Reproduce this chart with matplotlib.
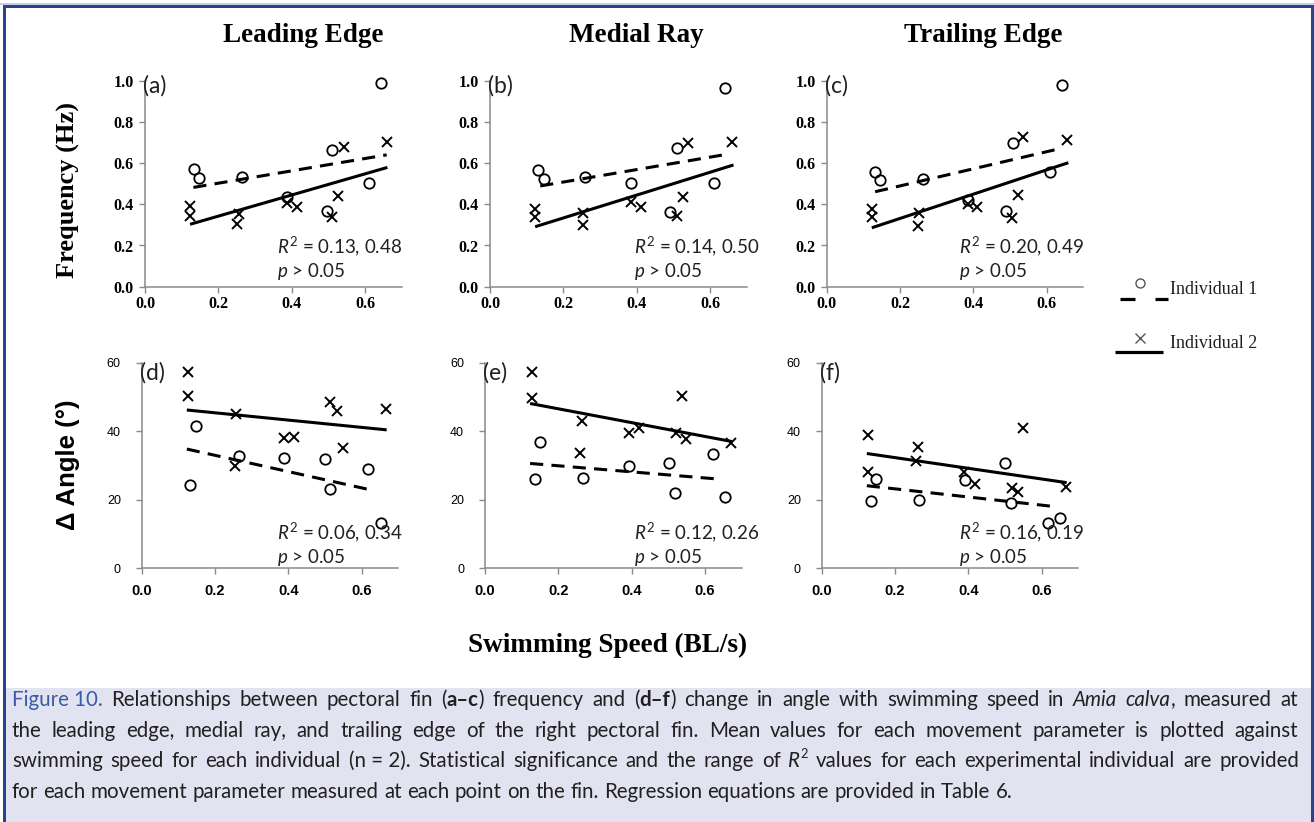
import re

import matplotlib
matplotlib.use("Agg")
import matplotlib.pyplot as plt
from matplotlib import font_manager
from matplotlib.lines import Line2D
from matplotlib.patches import Rectangle

# panel data: swimming speed (BL/s) against fin frequency (Hz) / change in angle (deg)
PANEL_LETTERS = ["a", "b", "c", "d", "e", "f"]
COLUMN_TITLES = ["Leading Edge", "Medial Ray", "Trailing Edge"]
R2_VALUES = ["0.13, 0.48", "0.14, 0.50", "0.20, 0.49",
             "0.06, 0.34", "0.12, 0.26", "0.16, 0.19"]
P_TEXT = "> 0.05"

# individual 1 (open circles)
IND1_SPEED = [
    [0.134, 0.147, 0.264, 0.386, 0.495, 0.509, 0.612, 0.644],
    [0.130, 0.146, 0.260, 0.384, 0.491, 0.510, 0.610, 0.641],
    [0.132, 0.145, 0.262, 0.386, 0.489, 0.507, 0.609, 0.641],
    [0.132, 0.148, 0.266, 0.389, 0.500, 0.514, 0.616, 0.653],
    [0.136, 0.150, 0.268, 0.394, 0.502, 0.518, 0.621, 0.655],
    [0.135, 0.148, 0.266, 0.391, 0.500, 0.515, 0.618, 0.650],
]
IND1_VALUE = [
    [0.571, 0.526, 0.534, 0.437, 0.369, 0.663, 0.502, 0.990],
    [0.566, 0.521, 0.531, 0.502, 0.364, 0.672, 0.502, 0.963],
    [0.558, 0.518, 0.521, 0.421, 0.367, 0.696, 0.558, 0.979],
    [24.3, 41.5, 32.8, 32.3, 31.8, 23.1, 28.9, 13.1],
    [26.1, 36.8, 26.4, 29.9, 30.6, 21.9, 33.4, 20.9],
    [19.6, 26.0, 19.9, 25.8, 30.6, 19.2, 13.3, 14.6],
]

# individual 2 (crosses)
IND2_SPEED = [
    [0.123, 0.123, 0.257, 0.252, 0.386, 0.414, 0.511, 0.527, 0.544, 0.659],
    [0.123, 0.123, 0.254, 0.254, 0.385, 0.413, 0.510, 0.527, 0.539, 0.659],
    [0.123, 0.123, 0.253, 0.250, 0.384, 0.409, 0.506, 0.521, 0.536, 0.655],
    [0.125, 0.125, 0.257, 0.255, 0.388, 0.414, 0.514, 0.532, 0.548, 0.665],
    [0.127, 0.127, 0.264, 0.259, 0.394, 0.420, 0.521, 0.536, 0.548, 0.670],
    [0.125, 0.125, 0.262, 0.257, 0.388, 0.418, 0.518, 0.534, 0.550, 0.666],
]
IND2_VALUE = [
    [0.393, 0.343, 0.353, 0.303, 0.405, 0.388, 0.340, 0.440, 0.676, 0.704],
    [0.377, 0.340, 0.356, 0.299, 0.413, 0.388, 0.343, 0.434, 0.696, 0.704],
    [0.375, 0.340, 0.359, 0.296, 0.401, 0.388, 0.332, 0.445, 0.725, 0.712],
    [57.2, 50.3, 45.0, 29.9, 37.9, 38.2, 48.4, 45.9, 35.2, 46.4],
    [57.2, 49.8, 43.1, 33.7, 39.4, 40.8, 39.6, 50.3, 37.7, 36.7],
    [38.9, 28.0, 35.3, 31.3, 28.0, 24.5, 23.3, 22.4, 41.0, 23.6],
]

# linear trend lines, start and end points
IND1_FIT_X = [(0.132, 0.659), (0.137, 0.653), (0.132, 0.640),
              (0.123, 0.632), (0.123, 0.641), (0.123, 0.636)]
IND1_FIT_Y = [(0.482, 0.640), (0.489, 0.645), (0.461, 0.672),
              (34.8, 22.7), (30.6, 26.0), (24.1, 18.0)]
IND2_FIT_X = [(0.123, 0.661), (0.123, 0.664), (0.123, 0.659),
              (0.123, 0.668), (0.123, 0.673), (0.123, 0.668)]
IND2_FIT_Y = [(0.303, 0.579), (0.291, 0.591), (0.286, 0.602),
              (46.2, 40.4), (48.1, 37.0), (33.5, 25.0)]

CAPTION = [
    "{f|Figure~10.} Relationships between pectoral fin ({b|a–c}) frequency and ({b|d–f}) "
    "change in angle with swimming speed in {i|Amia} {i|calva}, measured at",
    "the leading edge, medial ray, and trailing edge of the right pectoral fin. Mean values "
    "for each movement parameter is plotted against",
    "swimming speed for each individual (n~=~2). Statistical significance and the range of "
    "{i|R}{s|2} values for each experimental individual are provided",
    "for each movement parameter measured at each point on the fin. Regression equations "
    "are provided in Table 6.",
]

W, H = 1314, 822
BORDER = "#2a4391"
FIG_BLUE = "#3d5aa8"
TEXT_COLOR = "#231f20"
AXIS_GREY = "#8a8a8a"
SERIF = ["Liberation Serif", "DejaVu Serif"]
SANS = ["Liberation Sans", "DejaVu Sans"]
LABEL_FONT = ["Lato", "DejaVu Sans"]

# caption reads best in a narrow face when one is around
installed = {f.name for f in font_manager.fontManager.ttflist}
if "Liberation Sans Narrow" in installed:
    CAPTION_FONT = ["Liberation Sans Narrow", "DejaVu Sans"]
else:
    CAPTION_FONT = LABEL_FONT

plt.rcParams["mathtext.fontset"] = "custom"
plt.rcParams["mathtext.rm"] = "Lato"
plt.rcParams["mathtext.it"] = "Lato:italic"

fig = plt.figure(figsize=(W / 100, H / 100), dpi=100)
fig.patch.set_facecolor("white")


def fx(px):
    return px / W


def fy(py):
    return 1 - py / H


# frame and caption panel
fig.add_artist(Rectangle((fx(6), 0), fx(1305), fy(688), transform=fig.transFigure,
                         facecolor="#e1e3f0", edgecolor="none", zorder=0))
fig.add_artist(Rectangle((0, fy(5)), 1, fy(3) - fy(5), transform=fig.transFigure,
                         facecolor="#c8cde2", edgecolor="none", zorder=1))
for rect in [(fx(3), fy(8), 1 - fx(3), fy(5) - fy(8)),
             (fx(3), 0, fx(3), fy(5)),
             (fx(1311), 0, fx(3), fy(5))]:
    fig.add_artist(Rectangle(rect[:2], rect[2], rect[3], transform=fig.transFigure,
                             facecolor=BORDER, edgecolor="none", zorder=1))

lefts = [145, 490, 826.7, 141.7, 485, 821.7]
rows = [(80.7, 286.7), (362.7, 568.3)]
r2_x = [0.514, 0.561, 0.515, 0.526, 0.580, 0.536]

for i in range(6):
    top, bottom = rows[i // 3]
    ax = fig.add_axes([fx(lefts[i]), fy(bottom), fx(256.7), (bottom - top) / H])
    ax.set_facecolor("none")
    ax.plot(IND1_FIT_X[i], IND1_FIT_Y[i], color="black", lw=2.2,
            dashes=(4.3, 2.7), solid_capstyle="butt", dash_capstyle="butt")
    ax.plot(IND2_FIT_X[i], IND2_FIT_Y[i], color="black", lw=2.2, solid_capstyle="butt")
    ax.plot(IND1_SPEED[i], IND1_VALUE[i], "o", mfc="none", mec="black", ms=7.5,
            mew=1.3, clip_on=False)
    ax.plot(IND2_SPEED[i], IND2_VALUE[i], "x", color="black", ms=7.5, mew=1.4,
            clip_on=False)

    ax.set_xlim(0, 0.7)
    ax.set_xticks([0, 0.2, 0.4, 0.6])
    for s in ["top", "right"]:
        ax.spines[s].set_visible(False)
    for s in ["left", "bottom"]:
        ax.spines[s].set_color(AXIS_GREY)
        ax.spines[s].set_linewidth(1.1)
    ax.tick_params(direction="out", length=4, width=1, color=AXIS_GREY)

    if i < 3:
        ax.set_ylim(0, 1.0)
        ax.set_yticks([0, 0.2, 0.4, 0.6, 0.8, 1.0])
        ax.set_xticklabels(["0.0", "0.2", "0.4", "0.6"], family=SERIF,
                           fontweight="bold", fontsize=11.5)
        ax.set_yticklabels(["0.0", "0.2", "0.4", "0.6", "0.8", "1.0"], family=SERIF,
                           fontweight="bold", fontsize=11.5)
        ax.tick_params(axis="x", pad=3)
        ax.tick_params(axis="y", pad=4)
        lab_y, r2_y, p_y = 0.974, 0.162, 0.049
    else:
        ax.set_ylim(0, 60)
        ax.set_yticks([0, 20, 40, 60])
        ax.set_xticklabels(["0.0", "0.2", "0.4", "0.6"], family=SANS,
                           fontweight="bold", fontsize=10.5)
        ax.set_yticklabels(["0", "20", "40", "60"], family=SANS, fontsize=9)
        ax.tick_params(axis="x", pad=7)
        ax.tick_params(axis="y", pad=11)
        lab_y, r2_y, p_y = 0.95, 0.142, 0.027

    ax.text(-0.008, lab_y, f"({PANEL_LETTERS[i]})", transform=ax.transAxes,
            ha="left", va="center", fontsize=16.5, family=LABEL_FONT, color=TEXT_COLOR)
    ax.text(r2_x[i], r2_y, r"$R^2$ = " + R2_VALUES[i], transform=ax.transAxes,
            ha="left", va="baseline", fontsize=13.5, family=LABEL_FONT,
            color=TEXT_COLOR)
    ax.text(r2_x[i], p_y, r"$p$ " + P_TEXT, transform=ax.transAxes,
            ha="left", va="baseline", fontsize=13.5, family=LABEL_FONT,
            color=TEXT_COLOR)

# column titles and axis labels
for cx, title in zip([303, 636, 983], COLUMN_TITLES):
    fig.text(fx(cx), fy(35), title, ha="center", va="center", fontsize=19.5,
             fontweight="bold", family=SERIF, color="black")
fig.text(fx(68), fy(190), "Frequency (Hz)", rotation=90, ha="center", va="center",
         fontsize=19, fontweight="bold", family=SERIF)
fig.text(fx(68), fy(465), "Δ Angle (°)", rotation=90, ha="center", va="center",
         fontsize=18.5, fontweight="bold", family=SANS)
fig.text(fx(608), fy(645), "Swimming Speed (BL/s)", ha="center", va="center",
         fontsize=19.5, fontweight="bold", family=SERIF)

# legend
fig.add_artist(Line2D([fx(1140)], [fy(283)], marker="o", mfc="none", mec="#555555",
                      ms=6.5, mew=1.0, transform=fig.transFigure))
for x0, x1 in [(1120, 1135), (1155, 1168)]:
    fig.add_artist(Line2D([fx(x0), fx(x1)], [fy(299.5)] * 2, color="black", lw=2.3,
                          solid_capstyle="butt", transform=fig.transFigure))
fig.text(fx(1170), fy(290), "Individual 1", ha="left", va="center", fontsize=13,
         family=SERIF, color=TEXT_COLOR)
fig.add_artist(Line2D([fx(1140)], [fy(338)], marker="x", color="#555555",
                      ms=6.5, mew=1.0, transform=fig.transFigure))
fig.add_artist(Line2D([fx(1115), fx(1163)], [fy(352.5)] * 2, color="black", lw=2.3,
                      solid_capstyle="butt", transform=fig.transFigure))
fig.text(fx(1170), fy(343), "Individual 2", ha="left", va="center", fontsize=13,
         family=SERIF, color=TEXT_COLOR)

# caption, typeset word by word so the lines come out justified
renderer = fig.canvas.get_renderer()


def piece_props(style, size):
    props = dict(fontsize=size, color=TEXT_COLOR, family=CAPTION_FONT)
    if style == "b":
        props["fontweight"] = "bold"
    elif style == "i":
        props["fontstyle"] = "italic"
    elif style == "f":
        props["color"] = FIG_BLUE
    elif style == "s":
        props["fontsize"] = size * 0.62
    return props


def text_width(s, props):
    t = fig.text(0, 0, s, **props)
    w = t.get_window_extent(renderer).width
    t.remove()
    return w


def parse(line):
    words = []
    for word in line.split(" "):
        pieces = []
        for style, styled, plain in re.findall(r"\{(\w)\|([^}]*)\}|([^{]+)", word):
            txt = (styled if style else plain).replace("~", " ")
            pieces.append((style or "n", txt))
        words.append(pieces)
    return words


def line_widths(words, size):
    return [[text_width(t, piece_props(st, size)) for st, t in w] for w in words]


def space_width(size):
    p = piece_props("n", size)
    return text_width("a a", p) - text_width("aa", p)


cap_left, cap_right = 12, 1298
parsed = [parse(l) for l in CAPTION]

# size so the last line keeps its length, then grow a little toward the size at
# which the tightest justified line would sit at natural spacing
base = 12
sp = space_width(base)
natural = []
for words in parsed:
    ws = line_widths(words, base)
    natural.append(sum(sum(w) for w in ws) + sp * (len(ws) - 1))
size_last = base * 963 / natural[-1]
size_full = base * (cap_right - cap_left) / max(natural[:-1])
size = (size_last * size_full) ** 0.5
space = space_width(size)

baselines = [706, 736.5, 767, 797.5]
for li, words in enumerate(parsed):
    widths = line_widths(words, size)
    total = sum(sum(w) for w in widths)
    if li < len(parsed) - 1:
        gap = (cap_right - cap_left - total) / (len(words) - 1)
    else:
        gap = space
    x = cap_left
    for pieces, pw in zip(words, widths):
        for (style, txt), w in zip(pieces, pw):
            y = baselines[li] - (size * 0.42 * 100 / 72 if style == "s" else 0)
            fig.text(fx(x), fy(y), txt, ha="left", va="baseline",
                     **piece_props(style, size))
            x += w + (1 if style == "s" else 0)
        x += gap

fig.savefig("out.png", dpi=100, facecolor="white")
